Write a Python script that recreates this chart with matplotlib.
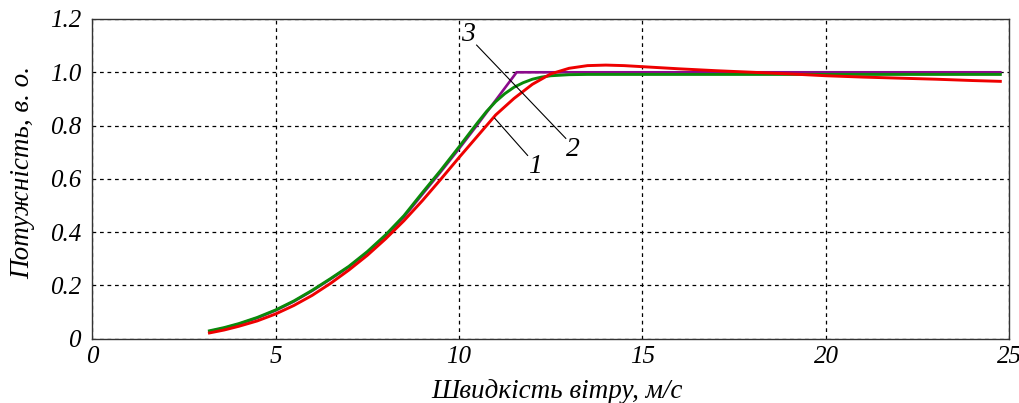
import numpy as np
import matplotlib
matplotlib.use('Agg')
import matplotlib.pyplot as plt

plt.rcParams['font.family'] = ['Liberation Serif', 'DejaVu Serif']

# curve 1 (red)
x_red = [3.2, 3.6, 4, 4.5, 5, 5.5, 6, 6.5, 7, 7.5, 8, 8.5, 9, 9.5, 10, 10.5, 11, 11.5, 12, 12.5,
         13, 13.5, 14, 14.5, 15, 16, 17, 18, 19, 20, 21, 22, 23, 24, 24.75]
y_red = [0.022, 0.033, 0.047, 0.067, 0.093, 0.125, 0.163, 0.208, 0.258, 0.313, 0.375, 0.443, 0.518, 0.598,
         0.68, 0.76, 0.84, 0.902, 0.955, 0.994, 1.015, 1.025, 1.027, 1.025, 1.021, 1.013, 1.006, 1.0,
         0.994, 0.987, 0.982, 0.978, 0.974, 0.969, 0.966]

# curve 2 (green)
x_green = [3.2, 3.6, 4, 4.5, 5, 5.5, 6, 6.5, 7, 7.5, 8, 8.5, 9, 9.5, 10, 10.5, 10.75, 11, 11.25, 11.5,
           11.75, 12, 12.25, 12.5, 13, 13.5, 24.75]
y_green = [0.03, 0.042, 0.057, 0.08, 0.108, 0.142, 0.182, 0.226, 0.272, 0.327, 0.39, 0.462, 0.548, 0.632,
           0.72, 0.81, 0.853, 0.89, 0.92, 0.944, 0.961, 0.974, 0.982, 0.987, 0.991, 0.992, 0.992]

# curve 3 (purple)
x_purple = [3.2, 3.6, 4, 4.5, 5, 5.5, 6, 6.5, 7, 7.5, 8, 8.5, 9, 9.5, 10, 10.5, 11, 11.57, 24.75]
y_purple = [0.028, 0.04, 0.055, 0.078, 0.106, 0.14, 0.18, 0.224, 0.27, 0.324, 0.386, 0.457, 0.542, 0.626,
            0.713, 0.803, 0.895, 1.0, 1.0]

fig = plt.figure(figsize=(10.2, 4.03), dpi=100)
ax = fig.add_axes([0.0902, 0.1593, 0.8995, 0.7936])

ax.plot(x_purple, y_purple, color='#8b0a8b', lw=1.9, zorder=3)
ax.plot(x_green, y_green, color='#0a8a0a', lw=2.1, zorder=4)
ax.plot(x_red, y_red, color='#ee0000', lw=2.1, zorder=5)

# leader lines and curve numbers
ax.plot([10.48, 12.91], [1.102, 0.752], color='black', lw=0.8, zorder=6)
ax.plot([10.97, 11.87], [0.828, 0.688], color='black', lw=0.8, zorder=6)
ax.text(10.24, 1.14, '3', fontsize=20, style='italic', ha='center', va='center')
ax.text(13.1, 0.712, '2', fontsize=20, style='italic', ha='center', va='center')
ax.text(12.06, 0.645, '1', fontsize=20, style='italic', ha='center', va='center')

ax.set_xlim(0, 25)
ax.set_ylim(0, 1.2)
ax.set_xticks([0, 5, 10, 15, 20, 25])
ax.set_yticks([0, 0.2, 0.4, 0.6, 0.8, 1.0, 1.2])
ax.set_xticklabels(['0', '5', '10', '15', '20', '25'])
ax.set_yticklabels(['0', '0.2', '0.4', '0.6', '0.8', '1.0', '1.2'])
ax.tick_params(length=0, labelsize=18)
ax.tick_params(axis='y', pad=8)
ax.tick_params(axis='x', pad=5)
for lab in ax.get_xticklabels() + ax.get_yticklabels():
    lab.set_style('italic')

ax.grid(True, color='black', linestyle=(0, (3, 3)), lw=0.9)
for s in ax.spines.values():
    s.set_color('#333333')
    s.set_linewidth(1.0)

ax.set_xlabel('Швидкість вітру, м/с', fontsize=19.5, style='italic')
ax.set_ylabel('Потужність, в. о.', fontsize=19.5, style='italic')
ax.xaxis.set_label_coords(0.507, -0.125)
ax.yaxis.set_label_coords(-0.062, 0.52)

fig.savefig('out.png', dpi=100)
